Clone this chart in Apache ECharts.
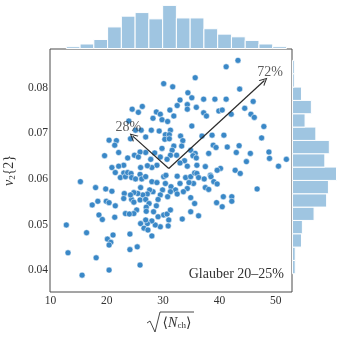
<!DOCTYPE html>
<html>
<head>
<meta charset="utf-8">
<script src="https://cdn.jsdelivr.net/npm/echarts@6/dist/echarts.min.js"></script>
<style>
  html, body { margin: 0; padding: 0; background: #fff; }
  #main { width: 341px; height: 341px; }
</style>
</head>
<body>
<div id="main"></div>
<script>
// events: [sqrt(<Nch>), v2{2}]
var points = [
  [43.3,0.0860],[41.2,0.0846],[35.7,0.0822],[30.1,0.0809],[31.7,0.0802],[43.6,0.0797],[34.4,0.0789],[35.1,0.0778],
  [33.0,0.0773],[37.2,0.0775],[39.2,0.0775],[41.2,0.0775],[46.0,0.0770],[32.5,0.0761],[34.3,0.0763],[35.9,0.0757],
  [34.3,0.0753],[44.5,0.0755],[24.5,0.0753],[26.3,0.0759],[25.6,0.0746],[28.8,0.0747],[31.2,0.0751],[29.5,0.0742],
  [37.2,0.0745],[37.7,0.0738],[39.9,0.0749],[40.5,0.0751],[42.1,0.0742],[45.6,0.0742],[46.2,0.0735],[23.9,0.0727],
  [28.2,0.0733],[29.8,0.0730],[30.8,0.0726],[31.9,0.0738],[35.1,0.0716],[47.9,0.0715],[25.1,0.0707],[26.1,0.0707],
  [27.9,0.0707],[29.3,0.0705],[30.4,0.0697],[31.3,0.0707],[31.1,0.0697],[30.3,0.0687],[31.1,0.0688],[33.1,0.0694],
  [24.2,0.0688],[26.9,0.0692],[36.9,0.0694],[38.7,0.0696],[40.8,0.0696],[20.4,0.0685],[21.7,0.0684],[21.4,0.0674],
  [22.1,0.0658],[19.6,0.0651],[33.5,0.0684],[33.3,0.0672],[31.9,0.0672],[31.6,0.0663],[29.8,0.0667],[28.5,0.0657],
  [26.9,0.0658],[25.9,0.0659],[24.9,0.0652],[23.7,0.0646],[25.6,0.0648],[29.5,0.0648],[31.3,0.0652],[32.4,0.0652],
  [34.9,0.0663],[35.7,0.0656],[35.3,0.0651],[35.9,0.0646],[38.1,0.0656],[38.9,0.0674],[39.4,0.0669],[41.4,0.0670],
  [43.5,0.0673],[43.0,0.0658],[45.5,0.0656],[47.5,0.0690],[48.8,0.0659],[48.9,0.0645],[51.9,0.0643],[50.5,0.0628],
  [44.8,0.0638],[42.8,0.0619],[43.7,0.0612],[40.2,0.0623],[39.6,0.0619],[38.4,0.0608],[37.5,0.0627],[36.0,0.0630],
  [34.3,0.0628],[33.8,0.0640],[33.0,0.0635],[30.7,0.0643],[28.9,0.0630],[28.0,0.0625],[27.2,0.0629],[26.0,0.0625],
  [27.8,0.0643],[23.0,0.0630],[22.1,0.0628],[20.9,0.0625],[21.5,0.0614],[23.0,0.0613],[22.4,0.0603],[23.3,0.0605],
  [23.7,0.0614],[24.3,0.0612],[24.4,0.0603],[25.1,0.0600],[25.9,0.0610],[26.2,0.0600],[26.9,0.0605],[28.0,0.0594],
  [28.9,0.0592],[30.1,0.0605],[30.5,0.0608],[30.4,0.0590],[31.4,0.0583],[32.5,0.0606],[33.0,0.0590],[34.0,0.0603],
  [34.9,0.0605],[35.6,0.0613],[36.0,0.0612],[36.3,0.0603],[37.3,0.0600],[38.5,0.0605],[39.0,0.0594],[39.6,0.0589],
  [37.5,0.0581],[38.1,0.0577],[35.4,0.0590],[34.6,0.0592],[34.3,0.0579],[33.6,0.0572],[32.2,0.0576],[32.5,0.0567],
  [31.3,0.0572],[30.8,0.0561],[29.9,0.0576],[29.5,0.0565],[29.1,0.0555],[28.2,0.0572],[27.6,0.0576],[27.2,0.0567],
  [26.4,0.0565],[26.0,0.0581],[25.5,0.0568],[24.8,0.0570],[24.4,0.0555],[23.1,0.0568],[20.9,0.0573],[19.8,0.0578],
  [18.0,0.0581],[15.3,0.0594],[17.4,0.0543],[18.4,0.0551],[19.9,0.0551],[20.4,0.0548],[21.5,0.0541],[24.2,0.0565],
  [24.8,0.0549],[25.9,0.0554],[26.9,0.0555],[27.5,0.0546],[28.8,0.0541],[27.0,0.0538],[25.3,0.0532],[24.8,0.0524],
  [23.3,0.0524],[24.0,0.0523],[23.0,0.0557],[18.6,0.0521],[19.2,0.0511],[21.4,0.0516],[27.0,0.0529],[28.3,0.0528],
  [29.1,0.0517],[30.1,0.0521],[30.7,0.0523],[31.0,0.0510],[31.3,0.0532],[33.4,0.0512],[34.9,0.0559],[35.6,0.0546],
  [36.3,0.0519],[34.9,0.0528],[39.5,0.0548],[40.7,0.0561],[40.5,0.0539],[42.2,0.0561],[42.2,0.0551],[46.7,0.0578],
  [30.9,0.0497],[29.5,0.0495],[28.6,0.0499],[28.0,0.0508],[27.2,0.0502],[26.9,0.0510],[26.0,0.0502],[26.6,0.0492],
  [27.3,0.0488],[28.0,0.0475],[12.8,0.0499],[16.4,0.0482],[21.1,0.0477],[20.1,0.0468],[20.7,0.0461],[20.4,0.0455],
  [24.1,0.0479],[25.4,0.0451],[24.1,0.0445],[13.1,0.0438],[18.1,0.0427],[15.6,0.0389],[20.4,0.0400],[25.9,0.0411]
];

// marginal histograms (16 bins each)
var nchBinStart = 12.8, nchBinWidth = 2.445;
var nchCounts = [2, 5, 10, 24, 36, 40, 33, 48, 34, 34, 22, 16, 13, 9, 5, 2];
var v2BinStart = 0.0392, v2BinWidth = 0.002925;
var v2Counts = [3, 3, 10, 11, 24, 38, 40, 49, 36, 41, 26, 14, 21, 10, 2, 2];

// arrows from the centre of the cloud
var arrowOrigin = [31.0, 0.0623];
var arrowEnds = [[48.0, 0.0816], [24.6, 0.0694]];
var arrowLabels = ['72%', '28%'];
var arrowLabelPos = [[49.0, 0.0834], [23.8, 0.0713]];

var xRange = [9.9, 52.9];
var yRange = [0.0352, 0.0885];
var countMax = 54;

var serif = 'Liberation Serif';
var histColor = '#9fc5e1';
var dotColor = '#3a88c7';

function bins(start, width, counts) {
  var out = [];
  counts.forEach(function (c, i) {
    out.push([start + i * width, start + (i + 1) * width, c]);
  });
  return out;
}

function histBar(horizontal) {
  return function (params, api) {
    var a = api.value(0), b = api.value(1), c = api.value(2);
    var p0, p1;
    if (horizontal) {
      p0 = api.coord([0, a]);
      p1 = api.coord([c, b]);
    } else {
      p0 = api.coord([a, 0]);
      p1 = api.coord([b, c]);
    }
    return {
      type: 'rect',
      shape: {
        x: Math.min(p0[0], p1[0]), y: Math.min(p0[1], p1[1]),
        width: Math.abs(p1[0] - p0[0]), height: Math.abs(p1[1] - p0[1])
      },
      style: { fill: histColor, stroke: '#fff', lineWidth: 1 }
    };
  };
}

var arrowHead = 'path://M0,10 L5,0 L10,10 L8.6,10 L5,2.8 L1.4,10 Z';

var chart = echarts.init(document.getElementById('main'));
chart.setOption({
  animation: false,
  grid: [
    { left: 50, right: 49, top: 49, bottom: 49, outerBoundsMode: 'none', containLabel: false,
      show: true, borderColor: '#4a4a4a', borderWidth: 1 },
    { left: 50, right: 49, top: 0, height: 48.5, outerBoundsMode: 'none', containLabel: false },
    { left: 292.5, right: 0, top: 49, bottom: 49, outerBoundsMode: 'none', containLabel: false }
  ],
  xAxis: [
    {
      gridIndex: 0, type: 'value', min: xRange[0], max: xRange[1], splitNumber: 4,
      axisLine: { show: false }, axisTick: { show: false }, splitLine: { show: false },
      axisLabel: { showMinLabel: false, showMaxLabel: false, margin: 3, color: '#333', fontFamily: serif, fontSize: 11.5 }
    },
    { gridIndex: 1, type: 'value', min: xRange[0], max: xRange[1], show: false },
    { gridIndex: 2, type: 'value', min: 0, max: countMax, show: false }
  ],
  yAxis: [
    {
      gridIndex: 0, type: 'value', min: yRange[0], max: yRange[1], splitNumber: 5,
      axisLine: { show: false }, axisTick: { show: false }, splitLine: { show: false },
      axisLabel: {
        showMinLabel: false, showMaxLabel: false, margin: 2, color: '#333', fontFamily: serif, fontSize: 11.5,
        formatter: function (v) { return v.toFixed(2); }
      },
      name: '{v|v}{s|2}{2}',
      nameLocation: 'middle', nameGap: 30, nameRotate: 90,
      nameTextStyle: {
        color: '#333', fontFamily: serif, fontSize: 14,
        rich: {
          v: { fontSize: 14, fontFamily: serif, fontStyle: 'italic', color: '#333' },
          s: { fontSize: 9, fontFamily: serif, color: '#333', padding: [6, 0, 0, 0] }
        }
      }
    },
    { gridIndex: 1, type: 'value', min: 0, max: countMax, show: false },
    { gridIndex: 2, type: 'value', min: yRange[0], max: yRange[1], show: false }
  ],
  series: [
    {
      type: 'custom', xAxisIndex: 1, yAxisIndex: 1,
      renderItem: histBar(false),
      data: bins(nchBinStart, nchBinWidth, nchCounts)
    },
    {
      type: 'custom', xAxisIndex: 2, yAxisIndex: 2,
      renderItem: histBar(true),
      encode: { x: 2, y: [0, 1] },
      data: bins(v2BinStart, v2BinWidth, v2Counts)
    },
    {
      type: 'scatter', xAxisIndex: 0, yAxisIndex: 0,
      symbolSize: 6,
      itemStyle: { color: dotColor, borderColor: '#fff', borderWidth: 0.5, opacity: 1 },
      data: points,
      markLine: {
        silent: true,
        symbol: ['none', arrowHead],
        symbolSize: [8, 8],
        label: { show: false },
        lineStyle: { color: '#2b2b2b', width: 1.2, type: 'solid' },
        data: arrowEnds.map(function (e) {
          return [{ coord: arrowOrigin }, { coord: e }];
        })
      }
    },
    {
      type: 'scatter', xAxisIndex: 0, yAxisIndex: 0,
      symbolSize: 0, silent: true,
      label: {
        show: true, position: 'inside', color: '#333', fontFamily: serif, fontSize: 14,
        formatter: function (p) { return p.name; }
      },
      data: arrowLabels.map(function (t, i) {
        return { name: t, value: arrowLabelPos[i] };
      })
    }
  ],
  graphic: [
    {
      type: 'text', x: 284, y: 274,
      style: {
        text: 'Glauber 20–25%', fill: '#333', font: '14px "Liberation Serif"',
        textAlign: 'right', textVerticalAlign: 'middle'
      }
    },
    // x axis title: sqrt(<N_ch>)
    {
      type: 'polyline',
      shape: { points: [[147, 323], [150, 321], [155, 332], [160, 312], [194, 312]] },
      style: { stroke: '#333', lineWidth: 0.9, fill: null }
    },
    {
      type: 'text', x: 177, y: 323,
      style: {
        text: '{t|⟨}{n|N}{s|ch}{t|⟩}', fill: '#333',
        textAlign: 'center', textVerticalAlign: 'middle',
        rich: {
          t: { fontSize: 14, fontFamily: 'DejaVu Serif', fill: '#333', color: '#333' },
          n: { fontSize: 14, fontFamily: serif, fontStyle: 'italic', fill: '#333', color: '#333' },
          s: { fontSize: 9, fontFamily: serif, fill: '#333', color: '#333', padding: [6, 0, 0, 0] }
        }
      }
    }
  ]
});
</script>
</body>
</html>
